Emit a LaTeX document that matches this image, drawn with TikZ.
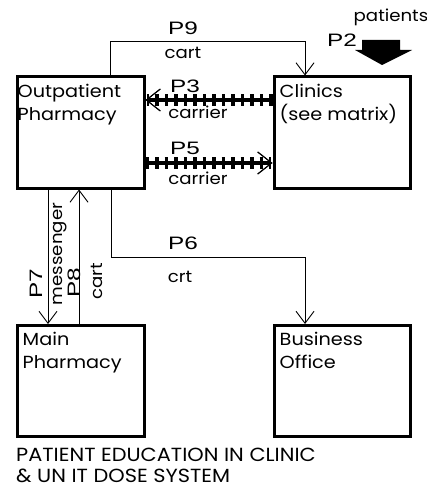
\documentclass[tikz,border=0pt]{standalone}
\usepackage{fontspec}
\setmainfont{Poppins}[FakeStretch=1.1]
\newfontfamily\pfont[FakeStretch=1.35]{Liberation Sans}
\usetikzlibrary{arrows.meta}
\begin{document}
\begin{tikzpicture}[x=1pt, y=-1pt,
	box/.style={ draw, line width=3pt, minimum width=127pt, minimum height=111pt, inner sep=0pt },
	wbox/.style={ box, minimum width=136pt },
	boxtext/.style={ anchor=north west, inner xsep=7pt, inner ysep=8pt, align=left, font=\fontsize{17.5}{23}\selectfont },
	flow/.style={ line width=0.9pt, -{Straight Barb[length=12pt,width=18pt,line width=0.9pt]} },
	carrier/.style={ line width=4pt, preaction={ draw, line width=12pt, dash pattern=on 3.5pt off 6pt },
		-{Straight Barb[length=14pt,width=22pt,line width=1pt]} },
	pname/.style={ font=\pfont\fontsize{18}{18}\selectfont, inner sep=0pt },
	how/.style={ font=\fontsize{16.5}{16.5}\selectfont, inner sep=0pt },
	title/.style={ anchor=west, inner sep=0pt, font=\fontsize{19}{20}\selectfont }
]
\useasboundingbox (0,0) rectangle (427,489);

\node[box] at (80.5,132.5) (outpat) {};
\node[boxtext, xshift=-5pt] at (outpat.north west) {Outpatient\\Pharmacy};
\node[wbox] at (342,132.5) (clinic) {};
\node[boxtext] at (clinic.north west) {Clinics\\(see matrix)};
\node[box] at (80.5,381) (mainph) {};
\node[boxtext] at (mainph.north west) {Main\\Pharmacy};
\node[wbox] at (342,381) (busoff) {};
\node[boxtext] at (busoff.north west) {Business\\Office};

% P9 cart
\draw[flow] ([xshift=29.5pt]outpat.north) |- (305,41) -- ([xshift=-37pt]clinic.north);
\node[pname] at (183,28) (p9) {P9};
\node[how] at (183,53) (p9how) {cart};

% P3 / P5 carrier
\draw[carrier] ([yshift=32.5pt]clinic.west) -- ([yshift=32.5pt]outpat.east);
\node[pname] at (185,86) (p3) {P3};
\node[how] at (198,112) (p3how) {carrier};
\draw[carrier] ([yshift=-30.5pt]outpat.east) -- ([yshift=-30.5pt]clinic.west);
\node[pname] at (185,148) (p5) {P5};
\node[how] at (198,178) (p5how) {carrier};

% P6 crt
\draw[flow] ([xshift=30.5pt]outpat.south) |- (305,257) -- ([xshift=-37pt]busoff.north);
\node[pname] at (183,243) (p6) {P6};
\node[how] at (180,277) (p6how) {crt};

% P7 / P8
\draw[flow] ([xshift=-32.5pt]outpat.south) -- ([xshift=-32.5pt]mainph.north);
\draw[flow] ([xshift=-1.5pt]mainph.north) -- ([xshift=-1.5pt]outpat.south);
\node[pname, rotate=90] at (36,284) (p7) {P7};
\node[how, rotate=90] at (60,254) (p7how) {messenger};
\node[pname, rotate=90] at (74,283) (p8) {P8};
\node[how, rotate=90] at (97,281) (p8how) {cart};

% P2 patients
\node[how] at (391,17) (p2how) {patients};
\node[pname] at (342,40) (p2) {P2};
\fill (362,40) -- (400,40) -- (400,50) -- (412,50) -- (382,65) -- (355,50) -- (362,50) -- cycle;

\node[title] at (16,455) (title1) {PATIENT EDUCATION IN CLINIC};
\node[title] at (16,476) (title2) {\& UN IT DOSE SYSTEM};

\end{tikzpicture}
\end{document}
